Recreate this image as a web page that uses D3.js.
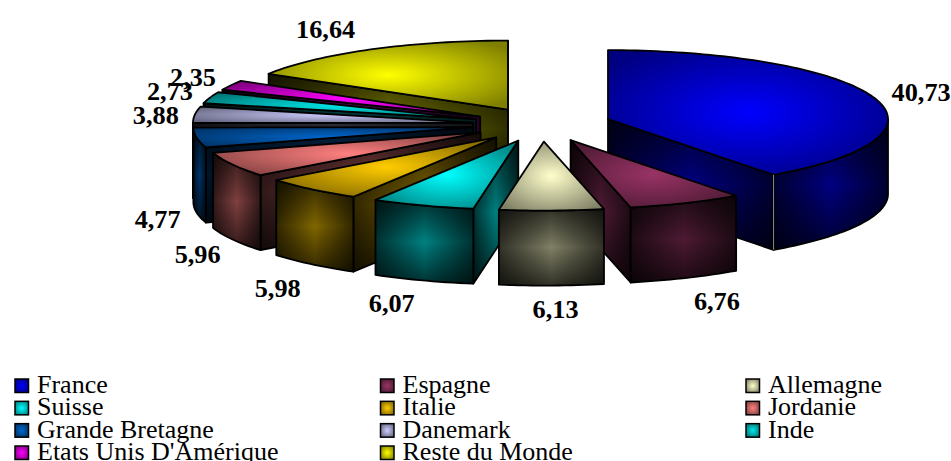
<!DOCTYPE html>
<html>
<head>
<meta charset="utf-8">
<script src="https://cdn.jsdelivr.net/npm/d3@7"></script>
<style>
  html, body { margin: 0; padding: 0; background: #fff; }
  svg { display: block; }
  .value { font: bold 26px "Liberation Serif", serif; fill: #000; }
  .entry { font: 25px "Liberation Serif", serif; fill: #000; }
</style>
</head>
<body>
<svg id="chart" width="951" height="461"></svg>
<script>
// Share of each destination, clockwise from twelve o'clock
const countries = ["France", "Espagne", "Allemagne", "Suisse", "Italie", "Jordanie",
  "Grande Bretagne", "Danemark", "Inde", "Etats Unis D'Amérique", "Reste du Monde"];
const shares = [40.73, 6.76, 6.13, 6.07, 5.98, 5.96, 4.77, 3.88, 2.73, 2.35, 16.64];
const shareLabels = ["40,73", "6,76", "6,13", "6,07", "5,98", "5,96", "4,77", "3,88", "2,73", "2,35", "16,64"];
const sliceColors = ["#0000FF", "#993366", "#FFFFCC", "#00FFFF", "#FFCC00", "#FF8080",
  "#0066CC", "#CCCCFF", "#00E6E6", "#FF00FF", "#FFFF00"];
// Nudge of each value label away from the rim of its slice
const labelNudges = [[47, 3.5], [31, 32], [4, 32.5], [-31, 32], [-34, 33], [-35, 23],
  [-39, 15.5], [-39, 9], [-40, 2.5], [-38, 0.5], [-45, -11.5]];

const svg = d3.select("#chart");
const defs = svg.append("defs");

// Tilted pie geometry
const centre = { x: 542, y: 124.5 };
const radius = { x: 280, y: 69 };
const explode = 0.248;   // share of the radius each slice is pulled out by
const depth = 75;

const xScale = d3.scaleLinear().domain([-1, 1]).range([centre.x - radius.x, centre.x + radius.x]);
const yScale = d3.scaleLinear().domain([-1, 1]).range([centre.y + radius.y, centre.y - radius.y]);

const pie = d3.pie().sort(null).value(d => d);
const arcs = pie(shares).map((a, i) => ({
  ...a,
  index: i,
  mid: (a.startAngle + a.endAngle) / 2,
  color: sliceColors[i]
}));

// Point on a slice at angle a and fraction r of the radius, h pixels below the top surface
function rim(slice, a, r, h) {
  const ox = explode * Math.sin(slice.mid), oy = explode * Math.cos(slice.mid);
  return [xScale(ox + r * Math.sin(a)), yScale(oy + r * Math.cos(a)) + h];
}

function arcPoints(slice, a0, a1, h) {
  const n = Math.max(2, Math.ceil((a1 - a0) * 40));
  return d3.range(n + 1).map(k => rim(slice, a0 + (a1 - a0) * k / n, 1, h));
}

const polygon = d3.line().curve(d3.curveLinearClosed);

// Bright centre, darkening to the rim, for every top face and legend key
sliceColors.forEach((c, i) => {
  const g = defs.append("radialGradient").attr("id", "top" + i).attr("r", 0.62);
  g.append("stop").attr("offset", 0).attr("stop-color", c);
  g.append("stop").attr("offset", 1).attr("stop-color", d3.interpolateRgb(c, "#000")(0.5));
});

// Edge darkening laid over the side walls
[["shadeH", 1, 0], ["shadeV", 0, 1]].forEach(([id, x2, y2]) => {
  const g = defs.append("linearGradient").attr("id", id)
    .attr("x1", 0).attr("y1", 0).attr("x2", x2).attr("y2", y2);
  [[0, 0.62], [0.5, 0], [1, 0.62]].forEach(([o, a]) =>
    g.append("stop").attr("offset", o).attr("stop-color", "#000").attr("stop-opacity", a));
});

function wall(group, pts, color) {
  const d = polygon(pts);
  const base = d3.interpolateRgb(color, "#000")(0.5);
  group.append("path").attr("d", d).attr("fill", base);
  group.append("path").attr("d", d).attr("fill", "url(#shadeH)");
  group.append("path").attr("d", d).attr("fill", "url(#shadeV)");
  group.append("path").attr("d", d).attr("fill", "none")
    .attr("stroke", "#000").attr("stroke-width", 1.8).attr("stroke-linejoin", "round");
}

const halfPi = Math.PI / 2;

// Back slices first so nearer ones cover them
const ordered = arcs.slice().sort((a, b) => d3.descending(Math.cos(a.mid), Math.cos(b.mid)));

ordered.forEach(s => {
  const g = svg.append("g").attr("class", "slice");
  const apex = rim(s, 0, 0, 0), apexLow = rim(s, 0, 0, depth);

  // Cut face at the start of the slice, when it turns towards the viewer
  if (Math.sin(s.startAngle) < 0) {
    const p = rim(s, s.startAngle, 1, 0), q = rim(s, s.startAngle, 1, depth);
    wall(g, [apex, p, q, apexLow], s.color);
  }
  // Cut face at the end of the slice
  if (Math.sin(s.endAngle) > 0) {
    const p = rim(s, s.endAngle, 1, 0), q = rim(s, s.endAngle, 1, depth);
    wall(g, [apex, p, q, apexLow], s.color);
  }
  // Curved outer wall, only where it faces front
  const a0 = Math.max(s.startAngle, halfPi), a1 = Math.min(s.endAngle, halfPi * 3);
  if (a1 > a0) {
    wall(g, arcPoints(s, a0, a1, 0).concat(arcPoints(s, a0, a1, depth).reverse()), s.color);
  }
  // Top face
  g.append("path")
    .attr("d", polygon([apex].concat(arcPoints(s, s.startAngle, s.endAngle, 0))))
    .attr("fill", `url(#top${s.index})`)
    .attr("stroke", "#000").attr("stroke-width", 1.8).attr("stroke-linejoin", "round");
});

// Pale seam where the front wall of the largest slice meets its cut face
const big = arcs[0];
svg.append("path")
  .attr("d", d3.line()([rim(big, big.endAngle, 1, 0), rim(big, big.endAngle, 1, depth)]))
  .attr("stroke", "#8a8a80").attr("stroke-width", 1).attr("fill", "none");

// Value labels outside the rim; slices in the front half measure from the bottom of the wall
svg.append("g").selectAll("text").data(arcs).join("text")
  .attr("class", "value")
  .attr("text-anchor", "middle")
  .attr("transform", s => {
    const low = Math.cos(s.mid) < 0 ? depth : 0;
    const [x, y] = rim(s, s.mid, 1, low);
    const [dx, dy] = labelNudges[s.index];
    return `translate(${x + dx},${y + dy}) scale(1.01,1)`;
  })
  .text(s => shareLabels[s.index]);

// Legend: three columns, filled row by row
const legendX = d3.scalePoint().domain([0, 1, 2]).range([15, 746]);
const legendY = d3.scaleLinear().domain([0, 3]).range([393, 460]);
const entry = svg.append("g").selectAll("g").data(countries).join("g")
  .attr("transform", (d, i) => `translate(${legendX(i % 3)},${legendY(Math.floor(i / 3))})`);
entry.append("rect")
  .attr("x", 0).attr("y", -14).attr("width", 13.5).attr("height", 13.5)
  .attr("fill", (d, i) => `url(#top${i})`)
  .attr("stroke", "#000").attr("stroke-width", 1.5);
entry.append("text")
  .attr("class", "entry")
  .attr("transform", "translate(22,0) scale(1.04,1)")
  .text(d => d);
</script>
</body>
</html>
